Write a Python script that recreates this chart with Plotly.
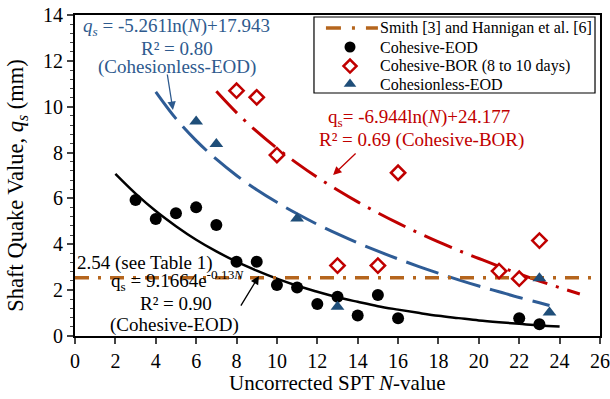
import plotly.graph_objects as go

# ---- data ----
coh_eod_n = [3, 4, 5, 6, 7, 8, 9, 10, 11, 12, 13, 14, 15, 16, 22, 23]
coh_eod_q = [5.93, 5.10, 5.35, 5.61, 4.84, 3.24, 3.24, 2.22, 2.12, 1.40, 1.71, 0.89, 1.79, 0.77, 0.77, 0.51]

coh_bor_n = [8, 9, 10, 13, 15, 16, 21, 22, 23]
coh_bor_q = [10.70, 10.41, 7.89, 3.07, 3.07, 7.12, 2.83, 2.50, 4.16]

cls_eod_n = [6, 7, 11, 13, 23, 23.5]
cls_eod_q = [9.35, 8.37, 5.13, 1.28, 2.52, 1.02]

smith_n = [0, 26]
smith_q = [2.54, 2.54]

# trend curves
fit_eod_n = [2, 3, 4, 5, 6, 7, 8, 9, 10, 11, 12, 13, 14, 15, 16, 17, 18, 19, 20, 21, 22, 23, 24]
fit_eod_q = [7.07, 6.21, 5.45, 4.79, 4.20, 3.69, 3.24, 2.85, 2.50, 2.19, 1.93, 1.69, 1.49, 1.30,
             1.15, 1.01, 0.88, 0.78, 0.68, 0.60, 0.53, 0.46, 0.41]

fit_cls_n = [4, 5, 6, 7, 8, 9, 10, 11, 12, 13, 14, 15, 16, 17, 18, 19, 20, 21, 22, 23, 23.5]
fit_cls_q = [10.65, 9.48, 8.52, 7.71, 7.00, 6.38, 5.83, 5.33, 4.87, 4.45, 4.06, 3.70, 3.36,
             3.04, 2.74, 2.45, 2.18, 1.93, 1.68, 1.45, 1.33]

fit_bor_n = [7, 8, 9, 10, 11, 12, 13, 14, 15, 16, 17, 18, 19, 20, 21, 22, 23, 24, 25]
fit_bor_q = [10.67, 9.74, 8.92, 8.19, 7.53, 6.92, 6.37, 5.85, 5.37, 4.92, 4.50, 4.11, 3.73,
             3.38, 3.04, 2.71, 2.40, 2.11, 1.83]

legend_labels = ["Smith [3] and Hannigan et al. [6]", "Cohesive-EOD",
                 "Cohesive-BOR (8 to 10 days)", "Cohesionless-EOD"]

x_ticks = list(range(0, 27, 2))
y_ticks = list(range(0, 15, 2))

RED = "#C00000"
BLUE_LINE = "#2E5C96"
BLUE_MK = "#1F4E79"
BLUE_TXT = "#2E5A8E"
BROWN = "#B5651D"
FONT = "Liberation Serif, Times New Roman, serif"

mk_eod = dict(symbol="circle", size=12, color="black")
mk_bor = dict(symbol="diamond", size=11, color="white", line=dict(color=RED, width=2.5))
mk_cls = dict(symbol="triangle-up", size=12, color=BLUE_MK)
smith_dash = "14px,9px,3px,9px"

fig = go.Figure()

# trend lines
fig.add_trace(go.Scatter(x=fit_eod_n, y=fit_eod_q, mode="lines", showlegend=False,
                         line=dict(color="black", width=2.5, shape="spline")))
fig.add_trace(go.Scatter(x=fit_cls_n, y=fit_cls_q, mode="lines", showlegend=False,
                         line=dict(color=BLUE_LINE, width=3, dash="34px,10px", shape="spline")))
fig.add_trace(go.Scatter(x=fit_bor_n, y=fit_bor_q, mode="lines", showlegend=False,
                         line=dict(color=RED, width=3, dash="30px,9px,3px,9px", shape="spline")))

# data
fig.add_trace(go.Scatter(x=smith_n, y=smith_q, mode="lines", name=legend_labels[0], showlegend=False,
                         line=dict(color=BROWN, width=3.5, dash=smith_dash)))
fig.add_trace(go.Scatter(x=coh_eod_n, y=coh_eod_q, mode="markers", name=legend_labels[1],
                         showlegend=False, marker=mk_eod))
fig.add_trace(go.Scatter(x=coh_bor_n, y=coh_bor_q, mode="markers", name=legend_labels[2],
                         showlegend=False, marker=mk_bor))
fig.add_trace(go.Scatter(x=cls_eod_n, y=cls_eod_q, mode="markers", name=legend_labels[3],
                         showlegend=False, marker=mk_cls))

# ---- hand-built legend (on an overlay axis spanning the plot area, 0..1) ----
lg_x0, lg_x1, lg_top, lg_bot = 0.4552, 0.9905, 0.9938, 0.757
row_y = [0.9595, 0.9003, 0.8411, 0.7850]
sym_x = 0.5238
txt_x = 0.577

fig.add_trace(go.Scatter(x=[0.478, txt_x], y=[row_y[0], row_y[0]], xaxis="x2", yaxis="y2",
                         mode="lines", showlegend=False, hoverinfo="skip",
                         line=dict(color=BROWN, width=3.5, dash="15px,11px,3px,11px")))
for yy, mk in zip(row_y[1:], [mk_eod, mk_bor, mk_cls]):
    fig.add_trace(go.Scatter(x=[sym_x], y=[yy], xaxis="x2", yaxis="y2", mode="markers",
                             showlegend=False, hoverinfo="skip",
                             marker=dict(mk, size=mk["size"] - 1)))

shapes = [dict(type="rect", xref="paper", yref="paper", x0=lg_x0, x1=lg_x1, y0=lg_bot, y1=lg_top,
               line=dict(color="black", width=1.2), fillcolor="white", layer="below")]

ann = []
for yy, lab in zip(row_y, legend_labels):
    ann.append(dict(x=txt_x, y=yy, xref="paper", yref="paper", text=lab, showarrow=False,
                    xanchor="left", yanchor="middle",
                    font=dict(family=FONT, size=16, color="black")))

def txt(x, y, t, color, size=19):
    ann.append(dict(x=x, y=y, xref="x", yref="y", text=t, showarrow=False,
                    xanchor="center", yanchor="middle",
                    font=dict(family=FONT, size=size, color=color)))

def arrow(x0, y0, x1, y1, color):
    ann.append(dict(x=x1, y=y1, ax=x0, ay=y0, xref="x", yref="y", axref="x", ayref="y",
                    text="", showarrow=True, arrowhead=2, arrowsize=1.3, arrowwidth=1.3,
                    arrowcolor=color))

# blue
txt(5.03, 13.48, "<i>q<sub>s</sub></i> = -5.261ln(<i>N</i>)+17.943", BLUE_TXT)
txt(5.05, 12.56, "R² = 0.80", BLUE_TXT)
txt(5.05, 11.73, "(Cohesionless-EOD)", BLUE_TXT)
arrow(4.56, 11.47, 4.85, 9.86, BLUE_TXT)
# red
txt(17.05, 9.51, "q<sub>s</sub>= -6.944ln(<i>N</i>)+24.177", RED)
txt(17.14, 8.55, "R² = 0.69 (Cohesive-BOR)", RED)
arrow(13.97, 8.02, 12.78, 7.02, RED)
# black
txt(3.49, 3.18, "2.54 (see Table 1)", "black")
txt(5.08, 2.44, "q<sub>s</sub> = 9.1664e<sup>-0.13<i>N</i></sup>", "black")
txt(4.98, 1.40, "R² = 0.90", "black")
txt(4.93, 0.48, "(Cohesive-EOD)", "black")
arrow(8.17, 1.26, 9.11, 2.62, "black")

# axis titles
ann.append(dict(x=0.5, y=-0.147, xref="paper", yref="paper", showarrow=False,
                xanchor="center", yanchor="middle",
                text="Uncorrected SPT <i>N</i>-value",
                font=dict(family=FONT, size=21, color="black")))
ann.append(dict(x=-0.110, y=0.469, xref="paper", yref="paper", showarrow=False,
                xanchor="center", yanchor="middle", textangle=-90,
                text="Shaft Quake Value, <i>q<sub>s</sub></i> (mm)",
                font=dict(family=FONT, size=22.5, color="black")))

fig.update_layout(
    width=610, height=399,
    margin=dict(l=75, r=10, t=15, b=63, autoexpand=False),
    paper_bgcolor="white", plot_bgcolor="white",
    font=dict(family=FONT, size=18, color="black"),
    annotations=ann, shapes=shapes,
    showlegend=False,
    xaxis=dict(range=[0, 26], tickvals=x_ticks, ticks="outside", ticklen=6, tickwidth=1.5,
               showline=True, linecolor="black", linewidth=2, mirror=True,
               showgrid=False, zeroline=False, automargin=False,
               tickfont=dict(size=20)),
    yaxis=dict(range=[0, 14], tickvals=y_ticks, ticks="outside", ticklen=6, tickwidth=1.5,
               showline=True, linecolor="black", linewidth=2, mirror=True,
               showgrid=False, zeroline=False, automargin=False,
               minor=dict(dtick=0.4, ticks="outside", ticklen=3, tickwidth=1, showgrid=False),
               tickfont=dict(size=20)),
    xaxis2=dict(range=[0, 1], overlaying="x", visible=False, fixedrange=True),
    yaxis2=dict(range=[0, 1], overlaying="y", visible=False, fixedrange=True),
)

fig.write_html("out.html", config={"displayModeBar": False},
               post_script="document.body.style.margin='0';document.body.style.padding='0';")
